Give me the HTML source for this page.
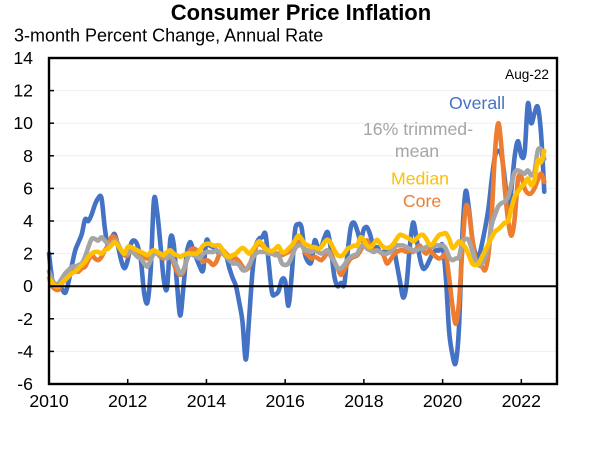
<!DOCTYPE html>
<html lang="en">
<head>
<meta charset="utf-8">
<title>Consumer Price Inflation</title>
<style>
html,body{margin:0;padding:0;background:#fff;}
svg{display:block;font-family:"Liberation Sans",Arial,sans-serif;}
</style>
</head>
<body>
<svg id="chart" width="604" height="454" viewBox="0 0 604 454" xmlns="http://www.w3.org/2000/svg">
  <rect x="0" y="0" width="604" height="454" fill="#ffffff"/>
  <text x="301" y="20" font-size="22" font-weight="bold" text-anchor="middle" fill="#000">Consumer Price Inflation</text>
  <text x="14" y="41.5" font-size="18" fill="#000">3-month Percent Change, Annual Rate</text>
  <g id="grid"></g>
  <g id="series"></g>
  <g id="axes"></g>
  <text x="549" y="79" font-size="13.6" text-anchor="end" fill="#000">Aug-22</text>
  <text x="477" y="109" font-size="17.7" text-anchor="middle" fill="#4472c4">Overall</text>
  <text x="418" y="135" font-size="17.7" text-anchor="middle" fill="#a5a5a5">16% trimmed-</text>
  <text x="417" y="157" font-size="17.7" text-anchor="middle" fill="#a5a5a5">mean</text>
  <text x="420" y="184.5" font-size="17.7" text-anchor="middle" fill="#ffc000">Median</text>
  <text x="422" y="207" font-size="17.7" text-anchor="middle" fill="#ed7d31">Core</text>
</svg>
<script>
const startYear = 2010;
const yTicks = [14, 12, 10, 8, 6, 4, 2, 0, -2, -4, -6];
const xTickYears = [2010, 2012, 2014, 2016, 2018, 2020, 2022];

const overallValues = [
  2.0,0.4,0.1,0,-0.2,-0.4,0.3,1.3,2.2,2.7,3.2,4.1,
  4.0,4.4,5.0,5.4,5.4,3.6,2.4,2.9,3.2,2.5,1.6,1.1,
  1.6,2.6,2.8,2.5,1.6,-0.4,-1.0,1.0,5.3,4.5,2.5,0.4,
  -0.1,2.9,2.6,0.2,-1.8,0,2.0,2.7,2.2,1.7,1.2,1.0,
  2.8,2.5,2.4,2.2,2.0,2.1,1.9,1.1,0.5,0,-1.0,-2.2,
  -4.5,-2.0,0.8,2.4,2.9,3.0,3.2,1.4,-0.4,-0.5,-0.3,0.4,
  0.3,-1.2,0.7,3.4,3.8,3.6,2.0,1.5,1.5,2.8,2.4,2.4,
  3.0,3.3,2.2,0.6,0,0.2,0.1,2.0,3.6,3.9,3.4,2.8,
  3.5,3.6,3.1,2.3,2.4,2.1,2.1,2.2,2.3,2.4,1.4,0.3,
  -0.7,0.1,2.4,3.9,3.0,1.8,1.1,1.2,1.6,2.0,2.2,2.2,
  2.5,0.5,-2.8,-4.2,-4.7,-2.5,3.0,5.8,4.8,3.0,2.0,1.8,
  2.6,3.6,4.8,6.6,8.0,8.3,8.0,6.5,4.5,6.0,8.0,8.9,
  8.0,8.2,11.2,10.0,10.6,11.0,9.4,5.8
];
const coreValues = [
  0.5,0,-0.2,-0.2,0.2,0.6,0.8,0.9,0.9,0.9,1.1,1.2,
  1.6,1.9,1.7,1.6,1.8,2.2,2.5,3.0,3.0,2.6,2.2,1.9,
  1.9,2.3,2.1,2.0,1.9,1.8,1.7,2.0,2.1,2.0,1.8,1.7,
  1.9,2.0,1.4,0.9,0.7,0.9,1.6,2.2,2.3,2.2,1.8,1.5,
  1.6,1.5,1.3,1.5,2.0,2.2,2.0,1.8,1.7,1.7,1.5,1.2,
  1.0,1.2,1.8,2.4,2.6,2.5,2.3,2.2,2.1,2.0,2.0,1.9,
  2.0,2.1,2.3,2.6,2.7,2.7,2.1,1.9,1.7,1.8,1.7,1.6,
  1.8,2.1,2.0,1.5,1.1,0.7,1.0,1.4,1.7,1.8,1.9,2.2,
  2.6,2.8,2.4,2.2,2.2,2.1,1.9,1.4,1.6,1.9,2.1,2.2,
  2.2,2.1,2.2,2.1,2.3,2.5,2.2,2.0,2.2,2.0,1.8,1.7,
  1.8,1.9,0.5,-1.2,-2.3,-1.0,2.2,4.8,4.6,3.0,1.7,1.3,
  1.2,1.0,2.0,4.5,8.3,10.0,8.4,5.9,4.0,3.1,4.2,6.6,
  6.7,6.0,5.7,5.7,6.0,6.5,6.9,6.4
];
const trimmedMeanValues = [
  0.9,0.4,0.1,0.2,0.5,0.8,1.0,1.2,1.2,1.3,1.4,1.8,
  2.4,2.9,2.9,2.8,3.0,2.8,2.6,2.6,2.8,2.6,2.2,2.0,
  2.0,2.2,2.0,1.8,1.7,1.4,1.2,1.6,2.0,2.0,1.9,1.8,
  1.7,1.9,1.6,1.2,0.8,1.0,1.6,2.0,1.9,1.8,1.7,2.0,
  2.1,2.1,2.1,2.2,2.1,2.0,1.8,1.6,1.4,1.4,1.3,1.0,
  1.0,1.3,1.7,2.0,2.1,2.1,2.1,2.0,2.0,1.9,1.9,1.4,
  1.3,1.4,1.8,2.3,2.5,2.5,2.2,2.2,2.1,2.2,2.1,2.0,
  2.1,2.2,1.8,1.5,1.1,1.1,1.3,1.6,1.8,1.9,2.0,2.4,
  2.5,2.3,2.2,2.1,2.2,2.1,2.0,2.0,2.1,2.3,2.5,2.5,
  2.5,2.4,2.3,2.2,2.2,2.3,2.3,2.4,2.5,2.4,2.5,2.5,
  2.5,2.3,1.8,1.6,1.7,1.8,2.7,2.9,2.8,2.2,1.6,1.3,
  1.4,1.8,2.5,3.8,4.4,4.9,5.1,5.2,5.5,6.3,7.0,7.1,
  7.0,6.9,7.1,6.8,7.0,8.3,8.4,7.8
];
const medianValues = [
  0.5,0.2,0,0,0.2,0.4,0.6,0.8,0.9,1.1,1.3,1.5,
  1.8,2.0,2.1,2.1,2.0,2.2,2.3,2.5,2.7,2.5,2.2,2.0,
  2.4,2.4,2.3,2.2,2.1,2.0,1.9,2.1,2.2,2.1,2.0,1.9,
  2.1,2.2,2.0,1.9,1.8,1.9,2.0,2.0,2.0,2.0,2.2,2.5,
  2.6,2.6,2.5,2.5,2.5,2.2,1.9,1.8,1.9,2.0,2.2,2.35,
  2.2,2.0,2.2,2.5,2.75,2.6,2.3,2.2,2.15,2.3,2.45,2.1,
  2.1,2.3,2.5,2.8,3.1,2.9,2.6,2.5,2.4,2.4,2.3,2.4,
  2.7,2.85,2.6,2.2,1.9,1.85,2.0,2.3,2.4,2.5,2.5,3.0,
  2.8,2.5,2.4,2.6,2.85,2.6,2.4,2.35,2.4,2.6,2.9,3.15,
  3.1,3.0,2.9,2.75,2.9,3.1,3.15,2.9,2.55,2.6,2.9,3.15,
  3.2,3.25,2.9,2.35,2.5,2.75,2.6,2.35,1.9,1.4,1.3,1.4,
  1.8,2.2,2.6,3.0,3.35,3.5,3.7,3.9,4.0,4.8,5.5,5.8,
  6.1,6.3,6.6,6.2,6.5,7.7,7.6,8.3
];

const plotLeft = 49, plotRight = 557, plotTop = 58, plotBottom = 384;
const yMax = 14, yMin = -6;
const pxPerMonth = 3.28;
const NS = 'http://www.w3.org/2000/svg';

function xScale(monthIndex) { return plotLeft + monthIndex * pxPerMonth; }
function yScale(value) { return plotTop + (yMax - value) * (plotBottom - plotTop) / (yMax - yMin); }

function make(tag, attrs, parent) {
  const el = document.createElementNS(NS, tag);
  for (const k in attrs) el.setAttribute(k, attrs[k]);
  parent.appendChild(el);
  return el;
}

function smoothPath(values) {
  const pts = values.map((v, i) => [xScale(i), yScale(v)]);
  const t = 0.16;
  let d = 'M' + pts[0][0].toFixed(2) + ' ' + pts[0][1].toFixed(2);
  for (let i = 0; i < pts.length - 1; i++) {
    const p0 = pts[Math.max(0, i - 1)], p1 = pts[i], p2 = pts[i + 1], p3 = pts[Math.min(pts.length - 1, i + 2)];
    const c1x = p1[0] + (p2[0] - p0[0]) * t, c1y = p1[1] + (p2[1] - p0[1]) * t;
    const c2x = p2[0] - (p3[0] - p1[0]) * t, c2y = p2[1] - (p3[1] - p1[1]) * t;
    d += 'C' + c1x.toFixed(2) + ' ' + c1y.toFixed(2) + ' ' + c2x.toFixed(2) + ' ' + c2y.toFixed(2) + ' ' + p2[0].toFixed(2) + ' ' + p2[1].toFixed(2);
  }
  return d;
}

const gridLayer = document.getElementById('grid');
const seriesLayer = document.getElementById('series');
const axesLayer = document.getElementById('axes');

yTicks.forEach(function (tick) {
  const y = yScale(tick);
  if (tick !== yMax && tick !== yMin && tick !== 0) {
    const line = make('line', { x1: plotLeft, x2: plotRight, y1: y, y2: y, stroke: '#efefef', 'stroke-width': 1 }, gridLayer);
    
    
  }
  const mark = make('line', { x1: plotLeft, x2: plotLeft + 5, y1: y, y2: y, stroke: '#000', 'stroke-width': 1.5 }, axesLayer);
  
  
  const label = make('text', { x: 33, y: y + 6, 'font-size': 17.7, 'text-anchor': 'end', fill: '#000' }, axesLayer);
  
  
  label.textContent = String(tick);
});

const overallLine = make('path', { d: smoothPath(overallValues), fill: 'none', stroke: '#4472c4', 'stroke-width': 4.6, 'stroke-linejoin': 'round', 'stroke-linecap': 'round' }, seriesLayer);


const coreLine = make('path', { d: smoothPath(coreValues), fill: 'none', stroke: '#ed7d31', 'stroke-width': 4.6, 'stroke-linejoin': 'round', 'stroke-linecap': 'round' }, seriesLayer);


const trimmedLine = make('path', { d: smoothPath(trimmedMeanValues), fill: 'none', stroke: '#a5a5a5', 'stroke-width': 4.6, 'stroke-linejoin': 'round', 'stroke-linecap': 'round' }, seriesLayer);


const medianLine = make('path', { d: smoothPath(medianValues), fill: 'none', stroke: '#ffc000', 'stroke-width': 4.6, 'stroke-linejoin': 'round', 'stroke-linecap': 'round' }, seriesLayer);



const zeroLine = make('line', { x1: plotLeft, x2: plotRight, y1: yScale(0), y2: yScale(0), stroke: '#000', 'stroke-width': 2 }, axesLayer);



const plotFrame = make('rect', { x: plotLeft, y: plotTop, width: plotRight - plotLeft, height: plotBottom - plotTop, fill: 'none', stroke: '#000', 'stroke-width': 2.4 }, axesLayer);



xTickYears.forEach(function (year) {
  const x = xScale((year - startYear) * 12);
  const mark = make('line', { x1: x, x2: x, y1: plotBottom, y2: plotBottom - 5, stroke: '#000', 'stroke-width': 1.5 }, axesLayer);
  
  
  const label = make('text', { x: x, y: 407, 'font-size': 17.7, 'text-anchor': 'middle', fill: '#000' }, axesLayer);
  
  
  label.textContent = String(year);
});
</script>
</body>
</html>
